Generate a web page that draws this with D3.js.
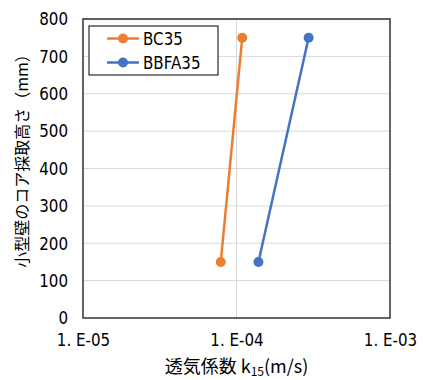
<!DOCTYPE html>
<html>
<head>
<meta charset="utf-8">
<script src="https://cdn.jsdelivr.net/npm/d3@7"></script>
<style>
  body { margin: 0; background: #fff; }
  svg text { font-family: "DejaVu Sans", "Noto Sans CJK JP", sans-serif; }
</style>
</head>
<body>
<div id="viz"></div>
<script>
// series (k15 in m/s, height in mm)
const seriesNames = ["BC35", "BBFA35"];
const seriesColors = ["#ED7D31", "#4472C4"];
const bc35 = [{ k: 7.9e-5, h: 150 }, { k: 1.09e-4, h: 750 }];
const bbfa35 = [{ k: 1.39e-4, h: 150 }, { k: 2.95e-4, h: 750 }];
const xTicks = [1e-5, 1e-4, 1e-3];
const xTickLabels = ["1. E-05", "1. E-04", "1. E-03"];
const yTicks = [0, 100, 200, 300, 400, 500, 600, 700, 800];

const width = 423, height = 380;
const margin = { top: 19, right: 33, bottom: 62, left: 83 };
const squeeze = 0.84; // narrow look of the original number font

const svg = d3.select("#viz").append("svg")
  .attr("width", width).attr("height", height);

const x = d3.scaleLog().domain([1e-5, 1e-3]).range([margin.left, width - margin.right]);
const y = d3.scaleLinear().domain([0, 800]).range([height - margin.bottom, margin.top]);

// gridlines
svg.append("g")
  .selectAll("line.hg")
  .data(yTicks.slice(1))
  .join("line")
  .attr("x1", margin.left).attr("x2", width - margin.right)
  .attr("y1", d => y(d)).attr("y2", d => y(d))
  .attr("stroke", "#d9d9d9").attr("stroke-width", 1);

svg.append("g")
  .selectAll("line.vg")
  .data(xTicks.slice(1, -1))
  .join("line")
  .attr("x1", d => x(d)).attr("x2", d => x(d))
  .attr("y1", margin.top).attr("y2", height - margin.bottom)
  .attr("stroke", "#d9d9d9").attr("stroke-width", 1);

// frame
svg.append("rect")
  .attr("x", margin.left).attr("y", margin.top)
  .attr("width", width - margin.left - margin.right)
  .attr("height", height - margin.top - margin.bottom)
  .attr("fill", "none").attr("stroke", "#303030").attr("stroke-width", 1.5);

// axes (labels only)
const yAxis = svg.append("g")
  .attr("transform", `translate(${margin.left},0)`)
  .call(d3.axisLeft(y).tickValues(yTicks).tickSize(0).tickPadding(15));
const xAxis = svg.append("g")
  .attr("transform", `translate(0,${height - margin.bottom})`)
  .call(d3.axisBottom(x).tickValues(xTicks).tickFormat((d, i) => xTickLabels[i]).tickSize(0).tickPadding(15));
[yAxis, xAxis].forEach(a => {
  a.select(".domain").remove();
  a.attr("font-family", null);
  a.selectAll("text")
    .attr("fill", "#000")
    .style("font-size", "18px")
    .style("white-space", "pre")
    .attr("transform", `scale(${squeeze},1)`);
});
yAxis.selectAll("text").attr("x", -15 / squeeze);

// series
const line = d3.line().x(d => x(d.k)).y(d => y(d.h));
[bc35, bbfa35].forEach((data, i) => {
  svg.append("path")
    .datum(data)
    .attr("d", line)
    .attr("fill", "none")
    .attr("stroke", seriesColors[i])
    .attr("stroke-width", 2.5);
  svg.append("g")
    .selectAll("circle")
    .data(data)
    .join("circle")
    .attr("cx", d => x(d.k)).attr("cy", d => y(d.h))
    .attr("r", 5)
    .attr("fill", seriesColors[i]);
});

// legend
const lg = svg.append("g").attr("transform", "translate(89,26)");
lg.append("rect")
  .attr("width", 129).attr("height", 49)
  .attr("fill", "#fff").attr("stroke", "#000").attr("stroke-width", 1);
seriesNames.forEach((name, i) => {
  const row = lg.append("g").attr("transform", `translate(0,${12.5 + i * 24})`);
  row.append("line").attr("x1", 18).attr("x2", 50)
    .attr("stroke", seriesColors[i]).attr("stroke-width", 2.5);
  row.append("circle").attr("cx", 34).attr("r", 5).attr("fill", seriesColors[i]);
  row.append("text")
    .attr("x", 54 / squeeze).attr("dy", "0.36em")
    .attr("transform", `scale(${squeeze},1)`)
    .style("font-size", "18px")
    .text(name);
});

// axis titles
const xt = svg.append("text")
  .attr("x", (margin.left + width - margin.right) / 2)
  .attr("y", 373)
  .attr("text-anchor", "middle")
  .style("font-size", "18px")
  .style("font-family", "'Noto Sans CJK JP', sans-serif");
xt.append("tspan").text("透気係数 k");
xt.append("tspan").attr("dy", 3).style("font-size", "12px").text("15");
xt.append("tspan").attr("dy", -3).text("(m/s)");

svg.append("text")
  .attr("transform", `translate(28,157) rotate(-90)`)
  .attr("text-anchor", "middle")
  .style("font-size", "16px")
  .style("font-family", "'Noto Sans CJK JP', sans-serif")
  .text("小型壁のコア採取高さ（mm）");
</script>
</body>
</html>
